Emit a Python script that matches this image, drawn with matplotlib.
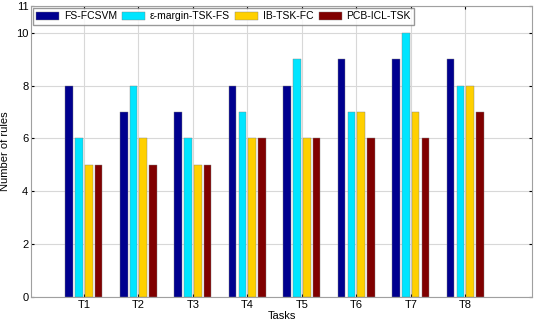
import matplotlib.pyplot as plt
import numpy as np

plt.rcParams['font.family'] = ['Liberation Sans', 'DejaVu Sans']

tasks = ['T1', 'T2', 'T3', 'T4', 'T5', 'T6', 'T7', 'T8']
methods = ['FS-FCSVM', 'ε-margin-TSK-FS', 'IB-TSK-FC', 'PCB-ICL-TSK']
fs_fcsvm = [8, 7, 7, 8, 8, 9, 9, 9]
eps_margin = [6, 8, 6, 7, 9, 7, 10, 8]
ib_tsk = [5, 6, 5, 6, 6, 7, 7, 8]
pcb_icl = [5, 5, 5, 6, 6, 6, 6, 7]
colors = ['#00008f', '#00e5ff', '#ffd000', '#800000']

fig = plt.figure(figsize=(5.36, 3.24), dpi=100)
ax = fig.add_axes([0.058, 0.083, 0.935, 0.898])

x = np.arange(1, len(tasks) + 1)
w = 0.14
step = 0.18
series = [fs_fcsvm, eps_margin, ib_tsk, pcb_icl]
for i, vals in enumerate(series):
    ax.bar(x + (i - 1.5) * step, vals, w, color=colors[i], label=methods[i],
           edgecolor='#808080', linewidth=0.3, zorder=3)

ax.set_xlim(0.03, 9.23)
ax.set_ylim(0, 11)
ax.set_xticks(x)
ax.set_xticklabels(tasks, fontsize=8)
ax.set_yticks([0, 2, 4, 6, 8, 10, 11])
ax.tick_params(labelsize=8, length=2, direction='in', top=True, right=True, pad=2)
ax.grid(True, color='#d8d8d8', linewidth=0.8, zorder=0)
for s in ax.spines.values():
    s.set_color('#a0a0a0')
ax.set_xlabel('Tasks', fontsize=8, labelpad=1)
ax.set_ylabel('Number of rules', fontsize=8, labelpad=4)

ax.legend(loc='upper left', ncol=4, fontsize=7.5, frameon=True, fancybox=False,
          edgecolor='#808080', handlelength=2.2, handleheight=0.8, columnspacing=0.5,
          handletextpad=0.45, borderaxespad=0.15, borderpad=0.35)

fig.savefig('out.png', dpi=100)
